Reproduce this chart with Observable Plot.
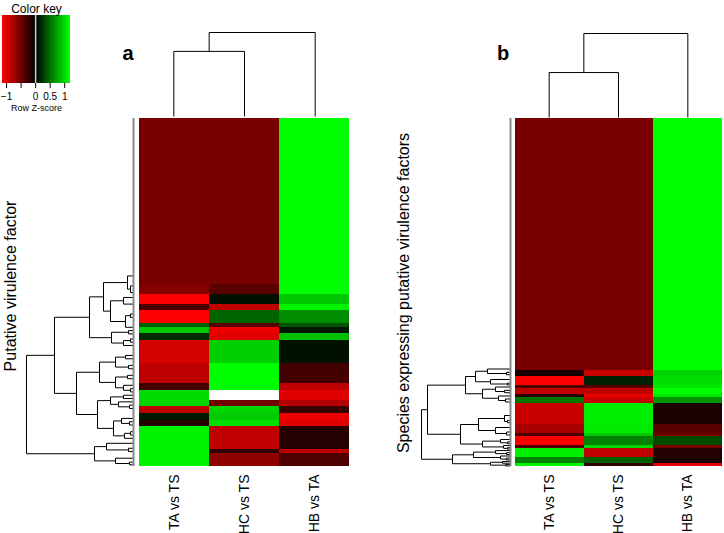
<!DOCTYPE html>
<html><head><meta charset="utf-8">
<script src="https://cdn.jsdelivr.net/npm/d3@7"></script>
<script src="https://cdn.jsdelivr.net/npm/@observablehq/plot@0.6"></script>
<style>
body{margin:0;background:#fff;}
#fig{position:relative;width:724px;height:533px;overflow:hidden;background:#fff;font-family:"Liberation Sans",Arial,sans-serif;}
#fig svg{position:absolute;overflow:visible;background:none;}
.lbl{position:absolute;white-space:nowrap;color:#000;line-height:1;}
.rot{transform:translate(-50%,-50%) rotate(-90deg);}
</style></head><body><div id="fig"></div><script>
// ---------- data ----------
const colNames = ["TA vs TS", "HC vs TS", "HB vs TA"];

// panel a: row-band boundaries (row units, top to bottom) and Z-scores per column
const breaksA = [0, 50, 53, 56, 58, 62, 63, 65, 67, 74, 80, 82, 85, 87, 89, 91, 93, 100, 101, 105];
const taA = [-0.54, -0.6, -1.14, -0.35, -1.14, 0.45, 0.94, 0.2, -0.95, -0.85, -0.3, 1.03, 1.0, -0.85, 0.12, -0.17, 1.15, 1.15, 1.15];
const hcA = [-0.54, -0.4, 0.08, -0.85, 0.47, -0.4, -1.05, -1.0, 0.98, 1.2, 1.2, null, -0.5, 1.0, 0.95, 1.05, -0.86, -0.22, -0.65];
const hbA = [1.2, 1.2, 0.94, 1.15, 0.66, 0.4, 0.1, 0.9, 0.08, -0.3, -0.85, -1.0, -0.8, -0.25, -1.05, -1.0, -0.17, -0.86, -0.35];

// panel b
const breaksB = [0, 84, 86, 89, 90, 92, 93, 95, 102, 105, 106, 109, 110, 113, 115, 116];
const taB = [-0.54, -0.1, -1.14, -0.35, -0.86, -0.17, 0.55, -0.9, -0.75, -0.35, -1.14, -0.35, 1.13, 0.6, 1.15];
const hcB = [-0.54, -0.9, 0.15, -0.4, -0.86, -1.05, -0.9, 1.12, 1.1, 0.94, 0.6, 1.0, -0.86, 0.45, -0.2];
const hbB = [1.2, 1.0, 1.05, 1.1, 1.2, 1.1, 0.7, -0.13, -0.4, -0.5, 0.35, -0.52, -0.17, -0.13, -1.0];

// row dendrograms: internal node {h: merge height, c: children}; leaf = row position
const rowTreeA = {h: 10.7, c: [
  {h: 7.9, c: [
    {h: 4.4, c: [
      {h: 3.0, c: [
        {h: 0.6, c: [47.5, {h: 0.3, c: [50.5, 52.5]}]},
        {h: 2.3, c: [{h: 1.0, c: [54, 56]}, {h: 0.8, c: [{h: 0.3, c: [59, 60]}, 63]}]}]},
      {h: 2.2, c: [{h: 0.5, c: [64, 65]}, {h: 1.0, c: [{h: 0.3, c: [66.5, 67.5]}, 68.5]}]}]},
    {h: 5.7, c: [
      {h: 3.4, c: [
        {h: 1.8, c: [{h: 0.8, c: [71.5, 72.5]}, {h: 0.5, c: [74.5, 75.5]}]},
        {h: 1.8, c: [{h: 0.6, c: [77.5, 78.5]}, {h: 1.0, c: [80.5, {h: 0.3, c: [81.5, 82.5]}]}]}]},
      {h: 3.6, c: [
        {h: 2.3, c: [{h: 1.0, c: [83.5, 84.5]}, {h: 1.5, c: [85.5, {h: 0.4, c: [86.5, 87.5]}]}]},
        {h: 2.0, c: [{h: 1.2, c: [90.5, {h: 0.4, c: [91.5, 92.5]}]}, {h: 0.9, c: [{h: 0.3, c: [94.5, 95.5]}, 96.5]}]}]}]}]},
  {h: 3.9, c: [
    {h: 2.7, c: [98, {h: 0.5, c: [99.5, 100.5]}]},
    {h: 1.8, c: [102.5, {h: 0.4, c: [103.7, 104.5]}]}]}]};

const rowTreeB = {h: 8.9, c: [
  {h: 8.3, c: [
    {h: 4.5, c: [
      {h: 3.5, c: [{h: 2.3, c: [83.5, {h: 0.4, c: [84.6, 85.4]}]}, {h: 2.0, c: [87, {h: 0.3, c: [88.2, 88.8]}]}]},
      {h: 2.8, c: [{h: 1.5, c: [89.5, {h: 0.6, c: [90.6, 91.4]}]}, {h: 1.2, c: [92.5, {h: 0.5, c: [93.5, 94.5]}]}]}]},
    {h: 5.0, c: [
      {h: 3.2, c: [{h: 0.6, c: [99, {h: 0.3, c: [100.6, 101.4]}]}, {h: 1.5, c: [103, {h: 0.4, c: [104.5, 105.5]}]}]},
      {h: 2.8, c: [{h: 1.0, c: [107, {h: 0.3, c: [107.8, 108.4]}]}, {h: 0.7, c: [109, {h: 0.3, c: [109.7, 110.2]}]}]}]}]},
  {h: 5.8, c: [
    {h: 3.7, c: [{h: 1.5, c: [110.7, {h: 0.4, c: [111.4, 112]}]}, {h: 1.0, c: [112.5, {h: 0.4, c: [113.2, 113.8]}]}]},
    {h: 2.0, c: [{h: 0.8, c: [114.3, 114.9]}, {h: 0.5, c: [115.3, 115.8]}]}]}]};

// column dendrograms: leaves are column indices
const colTreeA = {h: 2.0, c: [{h: 1.55, c: [0, 1]}, 2]};
const colTreeB = {h: 2.0, c: [{h: 1.07, c: [0, 1]}, 2]};

// colour key
const keyTicks = [-1, -0.5, 0, 0.5, 1];
const keyTickLabels = ["\u22121", "", "0", "0.5", "1"];

// ---------- helpers ----------
const color = {type: "linear", domain: [-1.14, 0, 1.2], range: ["#ff0000", "#000000", "#00ff00"], interpolate: "rgb", clamp: true};
const fig = document.getElementById("fig");
function place(el, left, top) { el.style.left = left + "px"; el.style.top = top + "px"; fig.append(el); }
function label(text, x, y, size, rot, bold) {
  const d = document.createElement("div");
  d.className = "lbl" + (rot ? " rot" : "");
  d.textContent = text;
  d.style.fontSize = size + "px";
  if (bold) d.style.fontWeight = "bold";
  d.style.left = x + "px"; d.style.top = y + "px";
  if (!rot) d.style.transform = "translate(-50%,-50%)";
  fig.append(d);
}
function cells(breaks, ta, hc, hb) {
  const out = [];
  [ta, hc, hb].forEach((vals, j) => vals.forEach((v, i) => {
    if (v != null) out.push({col: colNames[j], r0: breaks[i], r1: breaks[i + 1], v});
  }));
  return out;
}
function layout(node, segs) {
  if (typeof node === "number") return {p: node, h: 0};
  const kids = node.c.map(k => layout(k, segs));
  segs.push({h1: node.h, h2: node.h, p1: kids[0].p, p2: kids[kids.length - 1].p});
  for (const k of kids) segs.push({h1: node.h, h2: k.h, p1: k.p, p2: k.p});
  return {p: d3.mean(kids, k => k.p), h: node.h};
}
const font = {fontFamily: "Liberation Sans, Arial, sans-serif"};

function heat(data, n, width) {
  return Plot.plot({
    width, height: 348 + 67, marginLeft: 0, marginRight: 0, marginTop: 0, marginBottom: 67,
    style: font,
    x: {type: "band", domain: colNames, padding: 0},
    y: {domain: [0, n], reverse: true, axis: null},
    color,
    marks: [
      Plot.barY(data, {x: "col", y1: "r0", y2: "r1", fill: "v", shapeRendering: "crispEdges"}),
      Plot.axisX({tickSize: 0, tickPadding: 8, tickRotate: -90, fontSize: 14, label: null})
    ]
  });
}
function rowDendro(tree, n, hmax, width, mL) {
  const segs = []; layout(tree, segs);
  return Plot.plot({
    width, height: 348, marginLeft: mL, marginRight: 3, marginTop: 0, marginBottom: 0,
    x: {domain: [0, hmax], reverse: true, axis: null},
    y: {domain: [0, n], reverse: true, axis: null},
    marks: [
      Plot.link(segs, {x1: "h1", x2: "h2", y1: "p1", y2: "p2", stroke: "#000", strokeWidth: 1}),
      Plot.ruleX([0], {y1: 0, y2: n, stroke: "#8a8a8a", strokeWidth: 2})
    ]
  });
}
function colDendro(tree, width, mT, mB) {
  const segs = []; layout(tree, segs);
  return Plot.plot({
    width, height: 118, marginLeft: 0, marginRight: 0, marginTop: mT, marginBottom: mB,
    x: {domain: [-0.5, 2.5], axis: null},
    y: {domain: [0, 2.0], axis: null},
    marks: [Plot.link(segs, {x1: "p1", x2: "p2", y1: "h1", y2: "h2", stroke: "#000", strokeWidth: 1})]
  });
}

// ---------- colour key ----------
const tickLab = new Map(keyTicks.map((t, i) => [t, keyTickLabels[i]]));
const steps = d3.range(-1.14, 1.2, 0.034);
const key = Plot.plot({
  width: 100, height: 120, marginLeft: 2, marginRight: 30, marginTop: 15, marginBottom: 37,
  style: font,
  x: {domain: [-1.14, 1.2], axis: null},
  y: {axis: null},
  color,
  marks: [
    Plot.rect(steps, {x1: d => d, x2: d => Math.min(1.2, d + 0.045), fill: d => d + 0.017, shapeRendering: "crispEdges"}),
    Plot.ruleX([0], {stroke: "#cfcfcf", strokeWidth: 1.5}),
    Plot.axisX(keyTicks, {tickSize: 5, tickPadding: 4, fontSize: 10, tickFormat: d => tickLab.get(d), label: null}),
    Plot.text(["Color key"], {frameAnchor: "top", lineAnchor: "bottom", dy: -3, fontSize: 12}),
    Plot.text(["Row Z-score"], {frameAnchor: "bottom", dy: 27, fontSize: 9})
  ]
});
place(key, 0, 0);

// ---------- panel a ----------
place(colDendro(colTreeA, 212, 32, 2), 138, 0);
place(rowDendro(rowTreeA, 105, 10.7, 136, 26), 0, 118);
place(heat(cells(breaksA, taA, hcA, hbA), 105, 212), 138, 118);

// ---------- panel b ----------
place(colDendro(colTreeB, 208, 33, 1), 514, 0);
place(rowDendro(rowTreeB, 116, 8.9, 113, 21), 400, 118);
place(heat(cells(breaksB, taB, hcB, hbB), 116, 208), 514, 118);

// ---------- labels ----------
label("a", 128, 53, 20, false, true);
label("b", 503, 53, 20, false, true);
label("Putative virulence factor", 11, 286, 16, true);
label("Species expressing putative virulence factors", 404, 293, 16, true);
</script></body></html>
